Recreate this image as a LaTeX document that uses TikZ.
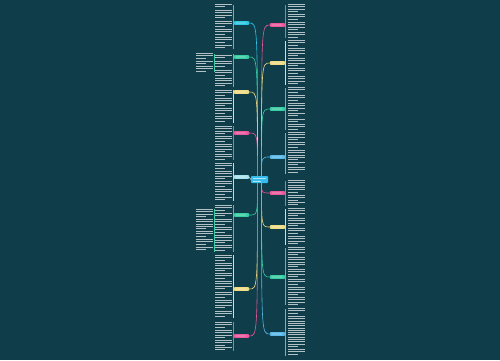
\documentclass[tikz,border=0pt]{standalone}
\usepackage{xcolor}
\usepackage{tikz}
\usetikzlibrary{calc}

\definecolor{bgc}{HTML}{0F3D4A}
\definecolor{rootc}{HTML}{36BDEE}
\definecolor{cyanc}{HTML}{2EC7E6}
\definecolor{greenc}{HTML}{38CDA2}
\definecolor{yellowc}{HTML}{F0DC84}
\definecolor{pinkc}{HTML}{E9589C}
\definecolor{bluec}{HTML}{5BB9E8}
\definecolor{lightc}{HTML}{A9E3EE}

\tikzset{
  txtline/.style={fill=white!68!bgc},
  rootbox/.style={rectangle, rounded corners=0.8pt, minimum width=17pt,
    minimum height=7pt, inner sep=0pt, fill=rootc},
  branch/.style={rectangle, rounded corners=0.6pt, minimum width=15pt,
    minimum height=3.6pt, inner sep=0pt, fill=#1,
    path picture={\fill[white,opacity=.5]
      ([xshift=1.5pt,yshift=-0.45pt]path picture bounding box.west) rectangle
      ([xshift=-3pt,yshift=0.45pt]path picture bounding box.east);}},
  link/.style={draw=#1, line width=0.6pt},
  spine/.style={draw=#1, line width=0.5pt},
}

% one paragraph of text lines: x, top y, number of lines
\newcommand{\tblock}[3]{%
  \foreach \k in {1,...,#3}{%
    \pgfmathsetmacro{\lw}{ifthenelse(\k==#3,10,17)}%
    \fill[txtline] (#1,{#2+2.3*(\k-1)}) rectangle ++(\lw,1.05);
  }}
% several paragraphs: x, list of top/lines
\newcommand{\paras}[2]{\foreach \py/\pn in {#2}{\tblock{#1}{\py}{\pn}}}

\begin{document}
\begin{tikzpicture}[x=1pt,y=-1pt]
\fill[bgc] (0,0) rectangle (500,360);
\useasboundingbox (0,0) rectangle (500,360);

%% Root %%
\node[rootbox] (root) at (259.5,179.5) {};
\fill[white,opacity=.6] (253,177.6) rectangle (266,178.6);
\fill[white,opacity=.6] (253,180.6) rectangle (261,181.6);

%% Branches, left %%
\node[branch=cyanc]   (L1) at (241.5,23) {};
\node[branch=greenc]  (L2) at (241.5,57) {};
\node[branch=yellowc] (L3) at (241.5,92) {};
\node[branch=pinkc]   (L4) at (241.5,133) {};
\node[branch=lightc]  (L5) at (241.5,177) {};
\node[branch=greenc]  (L6) at (241.5,215) {};
\node[branch=yellowc] (L7) at (241.5,289) {};
\node[branch=pinkc]   (L8) at (241.5,336) {};

%% Branches, right %%
\node[branch=pinkc]   (R1) at (277.5,25) {};
\node[branch=yellowc] (R2) at (277.5,63) {};
\node[branch=greenc]  (R3) at (277.5,109) {};
\node[branch=bluec]   (R4) at (277.5,157) {};
\node[branch=pinkc]   (R5) at (277.5,193) {};
\node[branch=yellowc] (R6) at (277.5,227) {};
\node[branch=greenc]  (R7) at (277.5,277) {};
\node[branch=bluec]   (R8) at (277.5,334) {};

%% Links %%
\coordinate (lu) at ([xshift=-2pt]root.north);
\coordinate (ld) at ([xshift=-2pt]root.south);
\coordinate (ru) at ([xshift=2pt]root.north);
\coordinate (rd) at ([xshift=2pt]root.south);

\draw[link=cyanc]   (lu) .. controls (lu |- L1) .. (L1.east);
\draw[link=greenc]  (lu) .. controls (lu |- L2) .. (L2.east);
\draw[link=yellowc] (lu) .. controls (lu |- L3) .. (L3.east);
\draw[link=pinkc]   (lu) .. controls (lu |- L4) .. (L4.east);
\draw[link=lightc]  (root.west) to[out=180,in=0] (L5.east);
\draw[link=greenc]  (ld) .. controls (ld |- L6) .. (L6.east);
\draw[link=yellowc] (ld) .. controls (ld |- L7) .. (L7.east);
\draw[link=pinkc]   (ld) .. controls (ld |- L8) .. (L8.east);

\draw[link=pinkc]   (ru) .. controls (ru |- R1) .. (R1.west);
\draw[link=yellowc] (ru) .. controls (ru |- R2) .. (R2.west);
\draw[link=greenc]  (ru) .. controls (ru |- R3) .. (R3.west);
\draw[link=bluec]   (ru) .. controls (ru |- R4) .. (R4.west);
\draw[link=pinkc]   (rd) .. controls (rd |- R5) .. (R5.west);
\draw[link=yellowc] (rd) .. controls (rd |- R6) .. (R6.west);
\draw[link=greenc]  (rd) .. controls (rd |- R7) .. (R7.west);
\draw[link=bluec]   (rd) .. controls (rd |- R8) .. (R8.west);

%% Spines %%
\draw[spine=cyanc]   ([xshift=-0.5pt]L1.west |- 0,5)   -- ([xshift=-0.5pt]L1.west |- 0,49);
\draw[spine=greenc]  ([xshift=-0.5pt]L2.west |- 0,54)  -- ([xshift=-0.5pt]L2.west |- 0,87);
\draw[spine=yellowc] ([xshift=-0.5pt]L3.west |- 0,90)  -- ([xshift=-0.5pt]L3.west |- 0,123);
\draw[spine=pinkc]   ([xshift=-0.5pt]L4.west |- 0,126) -- ([xshift=-0.5pt]L4.west |- 0,160);
\draw[spine=lightc]  ([xshift=-0.5pt]L5.west |- 0,163) -- ([xshift=-0.5pt]L5.west |- 0,201);
\draw[spine=greenc]  ([xshift=-0.5pt]L6.west |- 0,205) -- ([xshift=-0.5pt]L6.west |- 0,252);
\draw[spine=yellowc] ([xshift=-0.5pt]L7.west |- 0,255) -- ([xshift=-0.5pt]L7.west |- 0,318);
\draw[spine=pinkc]   ([xshift=-0.5pt]L8.west |- 0,322) -- ([xshift=-0.5pt]L8.west |- 0,351);

\draw[spine=pinkc]   ([xshift=0.5pt]R1.east |- 0,5)   -- ([xshift=0.5pt]R1.east |- 0,38);
\draw[spine=yellowc] ([xshift=0.5pt]R2.east |- 0,41)  -- ([xshift=0.5pt]R2.east |- 0,85);
\draw[spine=greenc]  ([xshift=0.5pt]R3.east |- 0,88)  -- ([xshift=0.5pt]R3.east |- 0,130);
\draw[spine=bluec]   ([xshift=0.5pt]R4.east |- 0,133) -- ([xshift=0.5pt]R4.east |- 0,174);
\draw[spine=pinkc]   ([xshift=0.5pt]R5.east |- 0,181) -- ([xshift=0.5pt]R5.east |- 0,206);
\draw[spine=yellowc] ([xshift=0.5pt]R6.east |- 0,209) -- ([xshift=0.5pt]R6.east |- 0,245);
\draw[spine=greenc]  ([xshift=0.5pt]R7.east |- 0,248) -- ([xshift=0.5pt]R7.east |- 0,305);
\draw[spine=bluec]   ([xshift=0.5pt]R8.east |- 0,309) -- ([xshift=0.5pt]R8.east |- 0,356);

% second level spines on the far left
\draw[spine=greenc] (214,54) -- (214,72);
\draw[spine=greenc] (214,209) -- (214,252);

%% Text, left %%
\paras{215}{4/2, 10/4, 21/3, 29/3, 37/3, 45/2}
\paras{215}{55/2, 61/3, 70/3, 78/4}
\paras{215}{90/3, 98/4, 108/3, 116/3}
\paras{215}{126/4, 136/3, 144/4, 154/3}
\paras{215}{163/3, 171/4, 181/3, 189/3, 197/2}
\paras{215}{205/3, 213/2, 219/3, 227/3, 235/4, 245/3}
\paras{215}{255/3, 263/4, 273/3, 281/4, 292/3, 300/4, 311/3}
\paras{215}{322/3, 330/4, 340/3, 347/2}

% far left
\paras{196}{53/3, 61/2, 66/3}
\paras{196}{209/4, 219/5, 231/3, 239/3, 247/2}

%% Text, right %%
\paras{287.5}{4/4, 14/3, 22/4, 32/3}
\paras{287.5}{40/3, 48/4, 58/4, 68/3, 76/4}
\paras{287.5}{87/3, 95/3, 103/4, 113/2, 119/2, 124/3}
\paras{287.5}{132/4, 142/3, 150/5, 162/2, 167/3}
\paras{287.5}{180/6, 195/3, 202/2}
\paras{287.5}{208/4, 218/4, 228/3, 236/4}
\paras{287.5}{247/4, 257/5, 269/4, 279/3, 287/4, 297/4}
\paras{287.5}{308/3, 316/14, 349/3}

\end{tikzpicture}
\end{document}
